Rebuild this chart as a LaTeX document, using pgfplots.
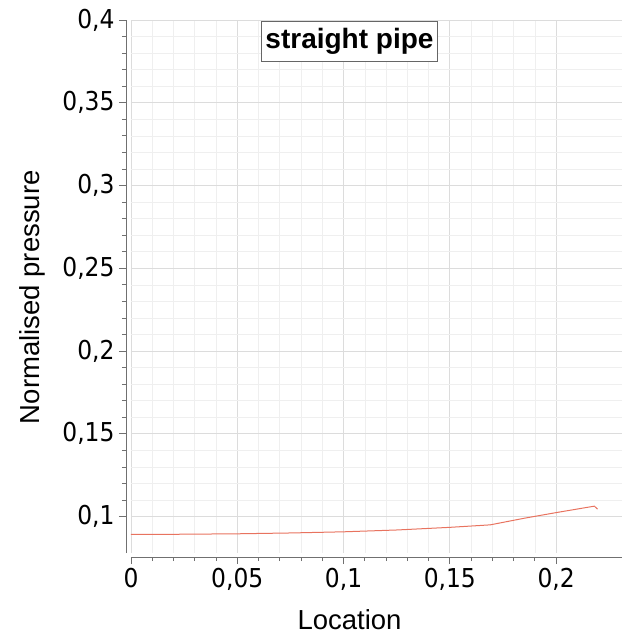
\documentclass[border=0pt]{standalone}
\usepackage{fontspec}
\setmainfont{Liberation Sans}
\newfontfamily\tickfont{DejaVu Sans Condensed}
\usepackage{pgfplots}
\pgfplotsset{compat=1.18}
\definecolor{curve}{HTML}{E8735F}
\definecolor{gridmaj}{HTML}{DCDCDC}
\definecolor{gridmin}{HTML}{EFEFEF}
\definecolor{axisgray}{HTML}{707070}
\begin{document}
\begin{tikzpicture}
\begin{axis}[
  scale only axis, width=491pt, height=533pt,
  xmin=0, xmax=0.231, ymin=0.078, ymax=0.4,
  axis lines*=left,
  axis x line shift=4pt, axis y line shift=5pt,
  axis line style={axisgray, line width=0.9pt},
  xtick={0,0.05,...,0.2}, ytick={0.1,0.15,...,0.4},
  minor x tick num=4, minor y tick num=4,
  tick align=outside,
  major tick length=7pt, minor tick length=4pt,
  every tick/.style={axisgray, line width=0.8pt},
  grid=both,
  major grid style={gridmaj, line width=0.7pt},
  minor grid style={gridmin, line width=0.6pt},
  scaled ticks=false,
  /pgf/number format/.cd, fixed, precision=2, use comma, assume math mode=true,
  /pgfplots/.cd,
  tick label style={font=\tickfont\fontsize{26}{30}\selectfont},
  xticklabel style={yshift=-1pt},
  yticklabel style={xshift=-1pt},
  xlabel={Location}, ylabel={Normalised pressure},
  label style={font=\fontsize{27.5}{32}\selectfont},
  xlabel style={at={(ticklabel cs:0.445)}, anchor=near ticklabel, yshift=-12pt},
  ylabel style={at={(ticklabel cs:0.48)}, anchor=near ticklabel, yshift=10pt},
]
\addplot[curve, line width=1pt] coordinates {
  (0,0.0893) (0.02,0.0893) (0.05,0.0896) (0.075,0.0901) (0.1,0.0908)
  (0.125,0.0919) (0.15,0.0935) (0.169,0.0950) (0.185,0.0990)
  (0.2,0.1024) (0.218,0.1063) (0.2195,0.1045)
};
\node[draw=gray!80!black, line width=1pt, fill=white, inner xsep=4pt, inner ysep=0pt,
  text height=21pt, text depth=7pt, minimum height=40pt,
  font=\bfseries\fontsize{28}{30}\selectfont]
  at (axis cs:0.1028,0.3873) {straight pipe};
\end{axis}
\pgfresetboundingbox
\useasboundingbox ([shift={(-131pt,-82pt)}]current axis.south west)
  rectangle ([shift={(5pt,20pt)}]current axis.north east);
\end{tikzpicture}
\end{document}
